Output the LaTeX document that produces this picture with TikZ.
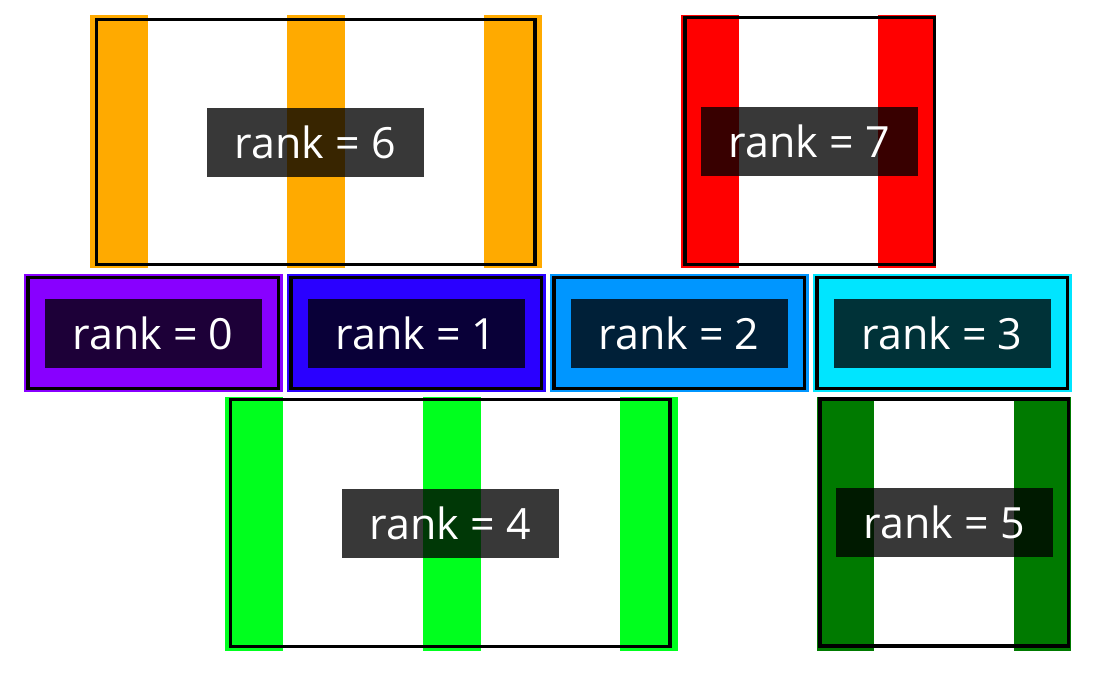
\documentclass[tikz,border=0pt]{standalone}
\usepackage{fontspec}
\setmainfont{Open Sans}
\usepackage{tikz}

\definecolor{rankzero}{HTML}{8800FF}
\definecolor{rankone}{HTML}{2A00FF}
\definecolor{ranktwo}{HTML}{0096FF}
\definecolor{rankthree}{HTML}{00E5FF}
\definecolor{rankfour}{HTML}{00FF1E}
\definecolor{rankfive}{HTML}{007A00}
\definecolor{ranksix}{HTML}{FFAA00}
\definecolor{rankseven}{HTML}{FF0000}

\tikzset{
	rankframe/.style={draw=black, line width=3.3pt},
	ranklabel/.style={fill=black, fill opacity=0.78, text opacity=1, text=white,
		minimum width=217pt, minimum height=69pt, inner sep=0pt,
		font=\fontsize{43}{48}\selectfont},
}

\begin{document}
\begin{tikzpicture}[x=1pt,y=-1pt]
	\useasboundingbox (0,0) rectangle (1099,680);
	
	% rank 6
	\foreach \x in {90,287,484}
		\fill[ranksix] (\x,15) rectangle ++(57.5,253);
	\draw[rankframe] (96.5,19.5) rectangle (535,264.5);
	\node[ranklabel] (rsix) at (315.5,142.5) {rank = 6};
	
	% rank 7
	\foreach \x in {681,878}
		\fill[rankseven] (\x,15) rectangle ++(58,253);
	\draw[rankframe] (685,17.5) rectangle (934.5,264.5);
	\node[ranklabel] (rseven) at (809.5,141.5) {rank = 7};
	
	% ranks 0 to 3
	\foreach \c [count=\i from 0] in {rankzero,rankone,ranktwo,rankthree} {
		\pgfmathsetmacro{\xo}{24+263*\i}
		\fill[\c] (\xo,274) rectangle ++(259,118);
		\draw[rankframe] (\xo+4,277.5) rectangle (\xo+254.5,388.5);
		\node[ranklabel] (r\i) at (\xo+129,333.5) {rank = \i};
	}
	
	% rank 4
	\foreach \x in {225,423,620}
		\fill[rankfour] (\x,397) rectangle ++(57.5,254);
	\draw[rankframe] (230.5,399.5) rectangle (670,646.5);
	\node[ranklabel] (rfour) at (450.5,523) {rank = 4};
	
	% rank 5
	\foreach \x in {817,1014}
		\fill[rankfive] (\x,397) rectangle ++(57,254);
	\draw[rankframe] (820,399) rectangle (1068.5,646);
	\node[ranklabel] (rfive) at (944.5,522.5) {rank = 5};
	
\end{tikzpicture}
\end{document}
